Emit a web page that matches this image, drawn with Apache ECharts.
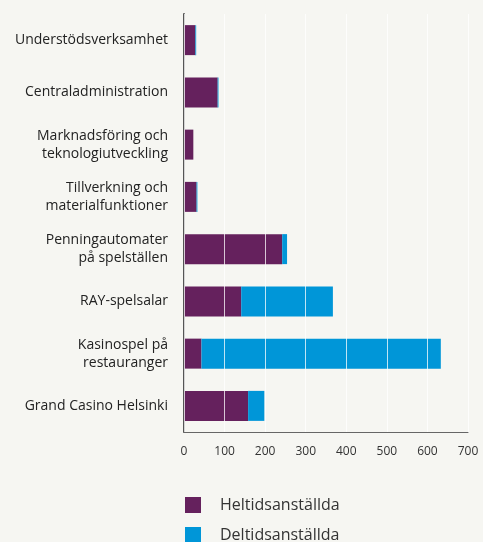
<!DOCTYPE html>
<html>
<head>
<meta charset="utf-8">
<script src="https://cdn.jsdelivr.net/npm/echarts@6/dist/echarts.min.js"></script>
<style>
  html, body { margin: 0; padding: 0; background: #f6f6f2; }
  #chart { width: 483px; height: 542px; }
</style>
</head>
<body>
<div id="chart"></div>
<script>
const categories = [
  'Understödsverksamhet',
  'Centraladministration',
  'Marknadsföring och\nteknologiutveckling',
  'Tillverkning och\nmaterialfunktioner',
  'Penningautomater\npå spelställen',
  'RAY-spelsalar',
  'Kasinospel på\nrestauranger',
  'Grand Casino Helsinki'
];
const fullTime = [28, 83, 23, 31, 242, 141, 43, 158];
const partTime = [2, 2, 0, 2, 12, 226, 590, 40];
const xTicks = [0, 100, 200, 300, 400, 500, 600, 700];

// legenden i två delar, annars bryts den till två kolumner
const legendText = {
  fontFamily: 'Open Sans',
  fontSize: 16,
  color: '#333',
  padding: [0, 0, 0, 14]
};

let myChart = echarts.init(document.getElementById('chart'));
let option = {
  backgroundColor: '#f6f6f2',
  animation: false,
  grid: {
    left: 184,
    right: 15,
    top: 14,
    bottom: 110
  },
  legend: [
    {
      left: 180,
      top: 492,
      icon: 'rect',
      itemWidth: 16,
      itemHeight: 16,
      textStyle: legendText,
      data: ['Heltidsanställda']
    },
    {
      left: 180,
      top: 522,
      icon: 'rect',
      itemWidth: 16,
      itemHeight: 16,
      textStyle: legendText,
      data: ['Deltidsanställda']
    }
  ],
  xAxis: {
    type: 'value',
    min: xTicks[0],
    max: xTicks[xTicks.length - 1],
    interval: 100,
    z: 10,
    axisLine: {
      show: true,
      lineStyle: { color: '#666', width: 1 }
    },
    axisTick: { show: false },
    splitLine: {
      show: true,
      lineStyle: { color: 'rgba(255,255,255,0.75)', width: 1 }
    },
    axisLabel: {
      color: '#333',
      fontFamily: 'Open Sans',
      fontSize: 12,
      margin: 14
    }
  },
  yAxis: {
    type: 'category',
    inverse: true,
    data: categories,
    axisLine: {
      show: true,
      lineStyle: { color: '#555', width: 2 }
    },
    axisTick: { show: false },
    axisLabel: {
      color: '#222',
      fontFamily: 'Open Sans',
      fontSize: 14,
      lineHeight: 18,
      margin: 16,
      align: 'right'
    }
  },
  series: [
    {
      name: 'Heltidsanställda',
      type: 'bar',
      stack: 'total',
      barWidth: 30,
      itemStyle: { color: '#65215d' },
      data: fullTime
    },
    {
      name: 'Deltidsanställda',
      type: 'bar',
      stack: 'total',
      barWidth: 30,
      itemStyle: { color: '#0096d8' },
      data: partTime
    }
  ]
};
myChart.setOption(option);
</script>
</body>
</html>
